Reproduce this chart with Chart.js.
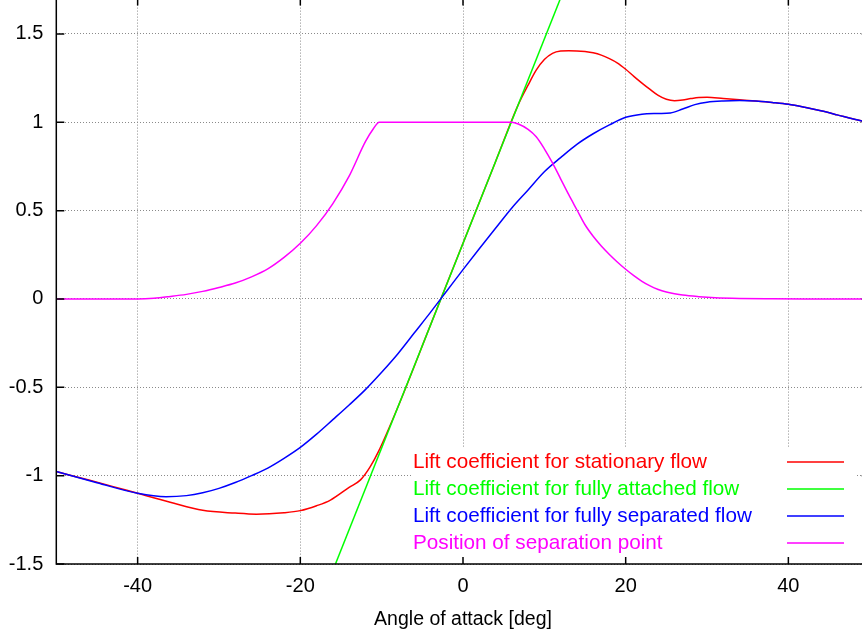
<!DOCTYPE html>
<html>
<head>
<meta charset="utf-8">
<title>Lift coefficient vs angle of attack</title>
<script src="https://cdn.jsdelivr.net/npm/chart.js@4.4.1/dist/chart.umd.min.js"></script>
<style>
  html, body { margin: 0; padding: 0; background: #fff; overflow: hidden; }
  #wrap { position: relative; width: 862px; height: 637px; overflow: hidden; }
  #chart { position: absolute; left: 0; top: -10px; }
</style>
</head>
<body>
<div id="wrap"><canvas id="chart" width="880" height="647"></canvas></div>
<script>
// tick values (gnuplot style: every 20 deg / every 0.5)
const xTicks = [-40, -20, 0, 20, 40];
const yTicks = [-1.5, -1, -0.5, 0, 0.5, 1, 1.5];

const legendLabels = [
    'Lift coefficient for stationary flow',
    'Lift coefficient for fully attached flow',
    'Lift coefficient for fully separated flow',
    'Position of separation point'
];
const seriesColors = ['#ff0000', '#00ff00', '#0000ff', '#ff00ff'];

// stationary flow
const statAngle = [-50, -46, -43, -40, -36, -32, -28, -25.4, -22, -20, -18, -16.3, -14, -12.6, -11.4, -10.4,
    -8, -4, 0, 4, 6.8, 8, 9, 10, 11, 12, 13, 14, 15, 16, 17, 18, 19, 20, 21, 22, 23, 24, 25, 26, 27, 28,
    29, 30, 32, 34, 36, 38, 40, 42, 44, 46, 48, 50];
const statCl = [-0.977, -1.025, -1.062, -1.10, -1.15, -1.196, -1.212, -1.218, -1.21, -1.198, -1.17, -1.138, -1.066, -1.024, -0.949, -0.864,
    -0.611, -0.148, 0.315, 0.777, 1.10, 1.21, 1.295, 1.355, 1.39, 1.403, 1.405, 1.404, 1.40, 1.393, 1.38, 1.36, 1.335, 1.30, 1.26, 1.222, 1.186, 1.152, 1.13, 1.122, 1.126, 1.134,
    1.14, 1.141, 1.134, 1.127, 1.12, 1.112, 1.102, 1.085, 1.065, 1.042, 1.018, 0.998];

// fully attached flow (straight line)
const attAngle = [-20, 15];
const attCl = [-2.00, 2.05];

// fully separated flow
const sepAngle = [-50, -45, -40, -36.5, -34, -32, -30, -28, -26, -24, -22, -20, -18, -16, -14, -12, -10, -8, -6, -4, -2, 0,
    2, 4, 6, 8, 10, 12, 14, 16, 18, 20, 22, 24, 25.5, 27, 28.5, 30, 32, 34, 36, 38, 40, 42, 44, 46, 48, 50];
const sepCl = [-0.977, -1.04, -1.10, -1.119, -1.113, -1.097, -1.072, -1.039, -1.0, -0.957, -0.902, -0.84, -0.765, -0.683, -0.60, -0.513, -0.415, -0.31, -0.193, -0.076, 0.045, 0.166,
    0.284, 0.40, 0.515, 0.617, 0.72, 0.80, 0.875, 0.935, 0.985, 1.028, 1.046, 1.05, 1.053, 1.075, 1.10, 1.114, 1.121, 1.123, 1.12, 1.112, 1.102, 1.085, 1.065, 1.042, 1.018, 0.998];

// separation point position
const fAngle = [-50, -40, -38, -36, -34, -32, -30, -28, -26, -24, -22, -20, -18, -16, -14, -12, -11, -10.3,
    6, 6.8, 8, 9, 10, 11, 12, 13, 14, 15, 16, 17, 18, 19, 20, 21, 22, 23, 24, 25, 26, 27, 29, 31, 34, 38, 42, 50];
const fValue = [0, 0, 0.004, 0.014, 0.026, 0.043, 0.065, 0.09, 0.125, 0.17, 0.235, 0.315, 0.415, 0.54, 0.695, 0.89, 0.965, 1.0,
    1.0, 0.99, 0.96, 0.918, 0.85, 0.77, 0.68, 0.59, 0.505, 0.42, 0.355, 0.30, 0.252, 0.208, 0.168, 0.132, 0.10, 0.074, 0.054, 0.04, 0.03, 0.022, 0.013, 0.007, 0.003, 0.001, 0, 0];

const FONT = '"Liberation Sans", Arial, Helvetica, sans-serif';

function toPoints(xs, ys) {
    return xs.map((x, i) => ({ x: x, y: ys[i] }));
}

function makeSeries(idx, xs, ys, order) {
    return {
        label: legendLabels[idx],
        data: toPoints(xs, ys),
        borderColor: seriesColors[idx],
        borderWidth: 1.5,
        pointRadius: 0,
        fill: false,
        cubicInterpolationMode: 'monotone',
        order: order
    };
}

// frame with inward ticks + opaque key at the lower right (gnuplot look)
const gnuplotFrame = {
    id: 'gnuplotFrame',
    afterDraw(chart) {
        const { ctx, chartArea: a, scales } = chart;
        const sx = scales.x, sy = scales.y;
        ctx.save();

        // key
        const keyLeft = 412, keyRight = 857, keyTop = 458;
        ctx.fillStyle = '#fff';
        ctx.fillRect(keyLeft, keyTop, keyRight - keyLeft, a.bottom - keyTop - 1);
        ctx.font = '20.7px ' + FONT;
        ctx.textAlign = 'left';
        ctx.textBaseline = 'middle';
        legendLabels.forEach((lab, i) => {
            const yy = 472 + i * 27;
            ctx.fillStyle = seriesColors[i];
            ctx.fillText(lab, 413, yy);
            ctx.strokeStyle = seriesColors[i];
            ctx.lineWidth = 1.5;
            ctx.beginPath();
            ctx.moveTo(787, yy);
            ctx.lineTo(844, yy);
            ctx.stroke();
        });

        // border + ticks
        ctx.strokeStyle = '#000';
        ctx.lineWidth = 1.5;
        ctx.strokeRect(a.left, a.top, a.right - a.left, a.bottom - a.top);
        ctx.beginPath();
        xTicks.forEach(v => {
            const px = sx.getPixelForValue(v);
            ctx.moveTo(px, a.bottom); ctx.lineTo(px, a.bottom - 7);
            ctx.moveTo(px, a.top); ctx.lineTo(px, a.top + 7);
        });
        yTicks.forEach(v => {
            const py = sy.getPixelForValue(v);
            ctx.moveTo(a.left, py); ctx.lineTo(a.left + 8, py);
            ctx.moveTo(a.right, py); ctx.lineTo(a.right - 8, py);
        });
        ctx.stroke();
        ctx.restore();
    }
};

const gridStyle = { color: '#8a8a8a', lineWidth: 1, drawTicks: false };
const borderStyle = { display: false, dash: [1, 2] };

new Chart(document.getElementById('chart'), {
    type: 'line',
    data: {
        datasets: [
            makeSeries(0, statAngle, statCl, 3),
            makeSeries(1, attAngle, attCl, 2),
            makeSeries(2, sepAngle, sepCl, 1),
            makeSeries(3, fAngle, fValue, 0)
        ]
    },
    options: {
        responsive: false,
        animation: false,
        layout: { padding: { top: 8.6, right: 10.3, left: 0, bottom: 0 } },
        plugins: { legend: { display: false }, tooltip: { enabled: false } },
        scales: {
            x: {
                type: 'linear',
                min: -50, max: 50,
                grid: gridStyle,
                border: borderStyle,
                afterBuildTicks: s => { s.ticks = xTicks.map(v => ({ value: v })); },
                afterFit: s => { s.height = 73; s.paddingLeft = 0; s.paddingRight = 0; },
                ticks: { padding: 10, color: '#000', font: { family: FONT, size: 20 }, maxRotation: 0, callback: v => String(v) },
                title: { display: true, text: 'Angle of attack [deg]', color: '#000', font: { family: FONT, size: 19.5 }, padding: { top: 0, bottom: 6 } }
            },
            y: {
                type: 'linear',
                min: -1.5, max: 1.7,
                grid: gridStyle,
                border: borderStyle,
                afterBuildTicks: s => { s.ticks = yTicks.map(v => ({ value: v })); },
                afterFit: s => { s.width = 56.3; s.paddingTop = 0; s.paddingBottom = 0; },
                ticks: { padding: 13, color: '#000', font: { family: FONT, size: 20 }, callback: v => String(v) }
            }
        }
    },
    plugins: [gnuplotFrame]
});
</script>
</body>
</html>
